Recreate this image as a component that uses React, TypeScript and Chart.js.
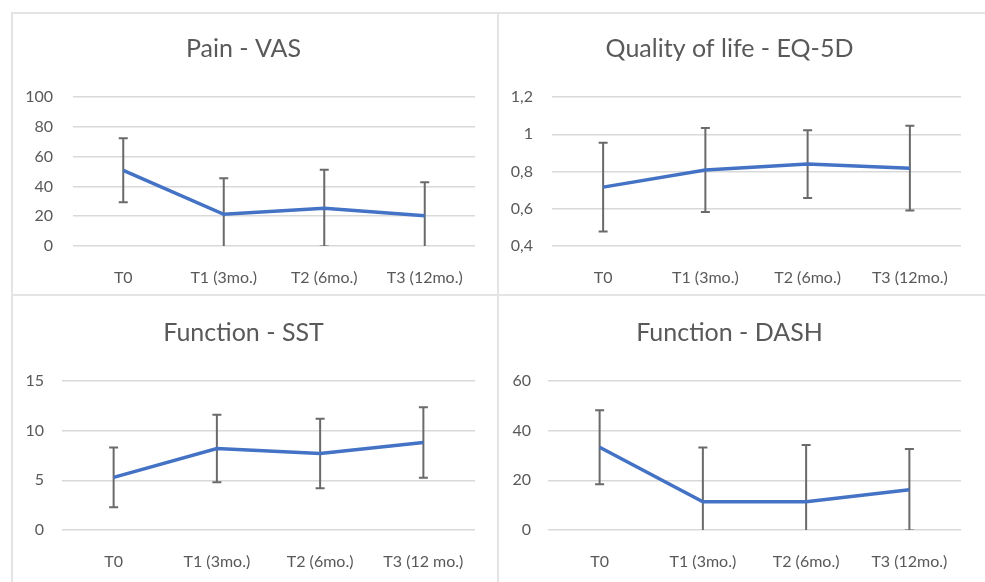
import React, { useEffect, useRef } from 'react';
import { Chart, registerables } from 'chart.js';

Chart.register(...registerables);

// ---------- data ----------
const categories = ['T0', 'T1 (3mo.)', 'T2 (6mo.)', 'T3 (12mo.)'];
const categoriesSST = ['T0', 'T1 (3mo.)', 'T2 (6mo.)', 'T3 (12 mo.)'];

const vasMean = [50.8, 21.3, 25.4, 20.3];
const vasSd = [21.5, 24.1, 25.7, 22.5];

const eqMean = [0.716, 0.808, 0.84, 0.818];
const eqSd = [0.238, 0.225, 0.182, 0.227];

const sstMean = [5.3, 8.2, 7.7, 8.8];
const sstSd = [3.0, 3.4, 3.5, 3.55];

const dashMean = [33.3, 11.4, 11.4, 16.2];
const dashSd = [14.9, 21.8, 22.8, 16.4];

const TEXT = '#595959';
const FONT = 'Lato, "Open Sans", sans-serif';

const errorBarPlugin = {
  id: 'errorBars',
  beforeDatasetsDraw(chart: any, _args: any, opts: any) {
    const sd: number[] = opts && opts.sd;
    if (!sd) return;
    const meta = chart.getDatasetMeta(0);
    const yScale = chart.scales.y;
    const data = chart.data.datasets[0].data as number[];
    const a = chart.chartArea;
    const ctx = chart.ctx;
    ctx.save();
    ctx.beginPath();
    ctx.rect(a.left, a.top - 2, a.right - a.left, a.bottom - a.top + 2);
    ctx.clip();
    ctx.strokeStyle = '#6a6a6a';
    ctx.lineWidth = 2;
    meta.data.forEach((pt: any, i: number) => {
      const x = pt.x;
      const yt = yScale.getPixelForValue(data[i] + sd[i]);
      const yb = yScale.getPixelForValue(data[i] - sd[i]);
      ctx.beginPath();
      ctx.moveTo(x, yt);
      ctx.lineTo(x, yb);
      ctx.moveTo(x - 4.5, yt);
      ctx.lineTo(x + 4.5, yt);
      ctx.moveTo(x - 4.5, yb);
      ctx.lineTo(x + 4.5, yb);
      ctx.stroke();
    });
    ctx.restore();
  },
};

type PanelProps = {
  left: number;
  top: number;
  width: number;
  height: number;
  title: string;
  labels: string[];
  mean: number[];
  sd: number[];
  min: number;
  max: number;
  step: number;
  fmt: (v: number) => string;
  yWidth: number;
  yPad: number;
  rightPad: number;
  areaTop: number;
  titleCenter: number;
  xHeight: number;
  xPad: number;
};

function Panel(p: PanelProps) {
  const ref = useRef<HTMLCanvasElement | null>(null);
  useEffect(() => {
    if (!ref.current) return;
    const titleSize = 25;
    const lh = titleSize * 1.2;
    const padTop = p.titleCenter - lh / 2;
    const padBottom = p.areaTop - padTop - lh;
    const chart = new Chart(ref.current, {
      type: 'line',
      data: {
        labels: p.labels,
        datasets: [
          {
            data: p.mean,
            borderColor: '#4472C4',
            borderWidth: 3.5,
            pointRadius: 0,
            tension: 0,
            fill: false,
          },
        ],
      },
      options: {
        animation: false,
        responsive: false,
        maintainAspectRatio: false,
        layout: { padding: { left: 0, top: 0, bottom: 0, right: p.rightPad } },
        plugins: {
          legend: { display: false },
          tooltip: { enabled: false },
          title: {
            display: true,
            text: p.title,
            color: TEXT,
            font: { family: FONT, size: titleSize, weight: 'normal' as any, lineHeight: 1.2 },
            padding: { top: padTop, bottom: padBottom },
          },
          errorBars: { sd: p.sd },
        } as any,
        scales: {
          x: {
            offset: true,
            grid: { display: false, drawTicks: false },
            border: { display: false },
            ticks: {
              color: TEXT,
              font: { family: FONT, size: 16 },
              padding: p.xPad,
              maxRotation: 0,
              autoSkip: false,
            },
            afterFit: (s: any) => {
              s.height = p.xHeight;
            },
          },
          y: {
            min: p.min,
            max: p.max,
            grid: { color: '#d9d9d9', lineWidth: 1.5, drawTicks: false },
            border: { display: false },
            ticks: {
              stepSize: p.step,
              color: TEXT,
              font: { family: FONT, size: 16 },
              padding: p.yPad,
              callback: (v: any) => p.fmt(Number(v)),
            },
            afterFit: (s: any) => {
              s.width = p.yWidth;
            },
          },
        },
      },
      plugins: [errorBarPlugin],
    });
    return () => chart.destroy();
  }, []);
  return (
    <div style={{ position: 'absolute', left: p.left, top: p.top, width: p.width, height: p.height }}>
      <canvas ref={ref} width={p.width} height={p.height} style={{ display: 'block' }} />
    </div>
  );
}

const intFmt = (v: number) => String(Math.round(v));
const commaFmt = (v: number) => {
  const r = Math.round(v * 10) / 10;
  return String(r).replace('.', ',');
};

const lineStyle = (l: number, t: number, w: number, h: number): React.CSSProperties => ({
  position: 'absolute',
  left: l,
  top: t,
  width: w,
  height: h,
  background: '#e4e4e4',
});

export default function App() {
  return (
    <div
      style={{
        position: 'fixed',
        left: 0,
        top: 0,
        width: 985,
        height: 582,
        overflow: 'hidden',
        background: '#ffffff',
      }}
    >
      <Panel
        left={12}
        top={13}
        width={486}
        height={283}
        title="Pain - VAS"
        labels={categories}
        mean={vasMean}
        sd={vasSd}
        min={0}
        max={100}
        step={20}
        fmt={intFmt}
        yWidth={61}
        yPad={20}
        rightPad={23}
        areaTop={84}
        titleCenter={36}
        xHeight={50}
        xPad={22}
      />
      <Panel
        left={498}
        top={13}
        width={487}
        height={283}
        title="Quality of life - EQ-5D"
        labels={categories}
        mean={eqMean}
        sd={eqSd}
        min={0.4}
        max={1.2}
        step={0.2}
        fmt={commaFmt}
        yWidth={54}
        yPad={19}
        rightPad={24}
        areaTop={84}
        titleCenter={36}
        xHeight={50}
        xPad={22}
      />
      <Panel
        left={12}
        top={296}
        width={486}
        height={286}
        title="Function - SST"
        labels={categoriesSST}
        mean={sstMean}
        sd={sstSd}
        min={0}
        max={15}
        step={5}
        fmt={intFmt}
        yWidth={50}
        yPad={18}
        rightPad={23}
        areaTop={85}
        titleCenter={36.5}
        xHeight={52}
        xPad={22}
      />
      <Panel
        left={498}
        top={296}
        width={487}
        height={286}
        title="Function - DASH"
        labels={categories}
        mean={dashMean}
        sd={dashSd}
        min={0}
        max={60}
        step={20}
        fmt={intFmt}
        yWidth={50}
        yPad={17}
        rightPad={24}
        areaTop={85}
        titleCenter={36.5}
        xHeight={52}
        xPad={22}
      />
      {/* panel borders */}
      <div style={lineStyle(11, 12, 974, 2)} />
      <div style={lineStyle(11, 12, 2, 570)} />
      <div style={lineStyle(497, 12, 2, 570)} />
      <div style={lineStyle(11, 294, 974, 2)} />
    </div>
  );
}
